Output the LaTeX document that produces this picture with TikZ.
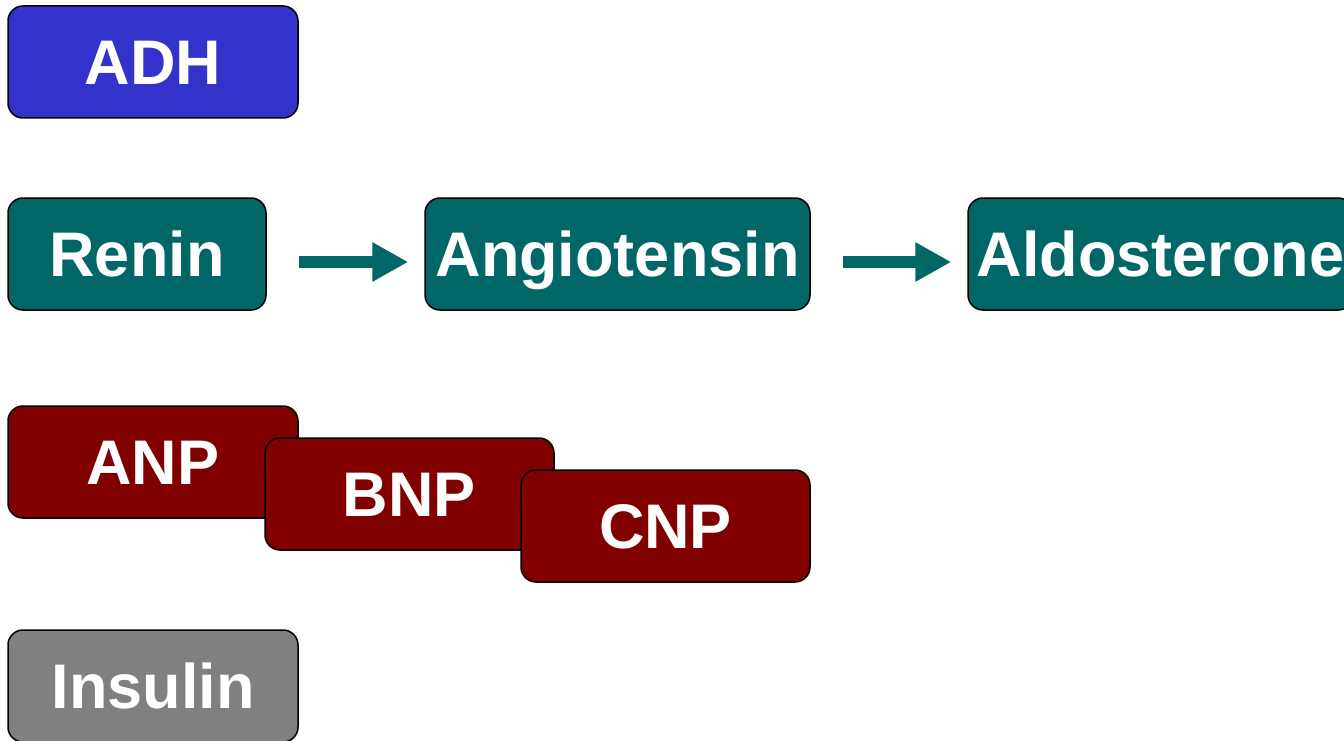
\documentclass[tikz,border=0pt]{standalone}
\usepackage{fontspec}
\setmainfont{Liberation Sans}
\usetikzlibrary{arrows.meta}
\definecolor{adhblue}{HTML}{3333CC}
\definecolor{tealbox}{HTML}{006666}
\definecolor{redbox}{HTML}{800000}
\definecolor{graybox}{HTML}{808080}
\begin{document}
\begin{tikzpicture}[x=1pt,y=-1pt,
  hbox/.style={draw=black, line width=1.5pt, rounded corners=15pt,
    minimum height=112pt, inner sep=0pt, text=white,
    font=\fontsize{63}{70}\selectfont\bfseries,
    text height=45pt, text depth=0pt},
  flowarrow/.style={draw=tealbox, line width=12pt,
    -{Triangle[length=36pt,width=37pt]}, shorten <=32pt, shorten >=16pt}]
\useasboundingbox (0,0) rectangle (1344,741);
\node[hbox, fill=adhblue, minimum width=290pt] (adh) at (153,62) {ADH};
\node[hbox, fill=tealbox, minimum width=258pt] (renin) at (137,254) {Renin};
\node[hbox, fill=tealbox, minimum width=385pt] (angio) at (617.5,254) {Angiotensin};
\node[hbox, fill=tealbox, minimum width=385pt] (aldo) at (1160.5,254) {Aldosterone};
\draw[flowarrow] ([yshift=-8pt]renin.east) -- ([yshift=-8pt]angio.west);
\draw[flowarrow] ([yshift=-8pt]angio.east) -- ([yshift=-8pt]aldo.west);
\node[hbox, fill=redbox, minimum width=290pt] (anp) at (153,462) {ANP};
\node[hbox, fill=redbox, minimum width=289pt] (bnp) at (409.5,494) {BNP};
\node[hbox, fill=redbox, minimum width=289pt] (cnp) at (665.5,526) {CNP};
\node[hbox, fill=graybox, minimum width=290pt] (ins) at (153,686) {Insulin};
\end{tikzpicture}
\end{document}
